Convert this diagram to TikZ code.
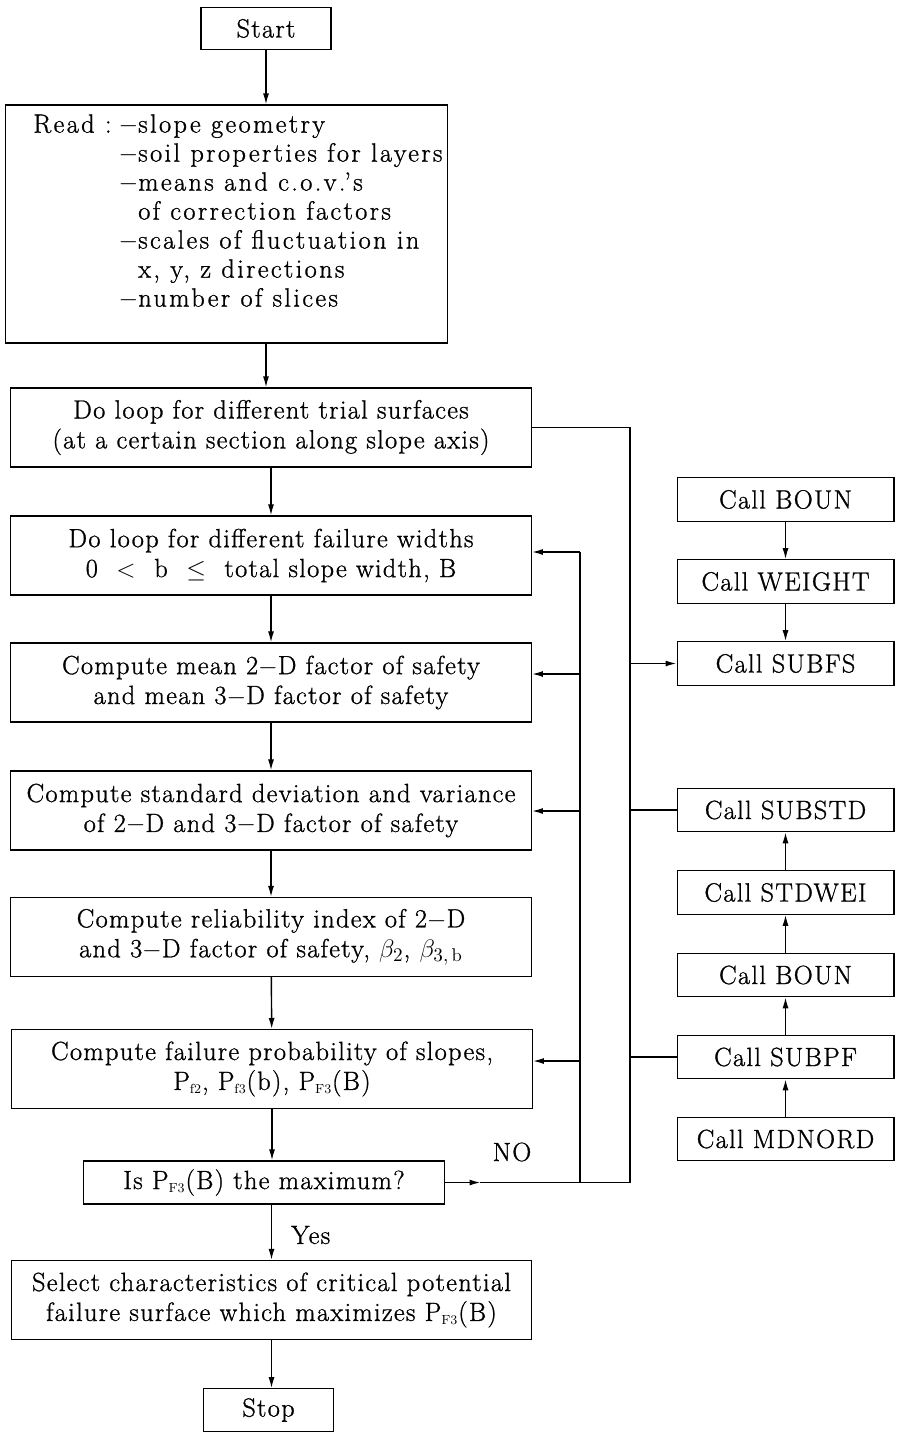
\documentclass[tikz,border=0pt]{standalone}
\usepackage{amsmath, amssymb}
\usepackage{fontspec}
\newfontfamily\boxfont{Latin Modern Roman}[LetterSpace=5, FakeBold=1]
\newfontfamily\readfont{Latin Modern Roman}[LetterSpace=9, FakeBold=1]
\usepackage{tikz}
\usetikzlibrary{arrows.meta, positioning, calc}

\begin{document}
\begin{tikzpicture}[
  x=0.02cm, y=-0.02cm,
  box/.style={draw, line width=0.6pt, align=center, inner sep=0pt,
    font=\boxfont\fontsize{15}{17}\selectfont},
  mainbox/.style={box, minimum width=10.42cm, minimum height=1.58cm},
  callbox/.style={box, minimum width=4.34cm, minimum height=0.87cm},
  termbox/.style={box, minimum width=2.6cm, minimum height=0.85cm},
  arr/.style={line width=0.8pt, -{Latex[length=2.2mm,width=1.2mm]}},
  lin/.style={line width=0.8pt},
  lbl/.style={font=\boxfont\fontsize{15}{17}\selectfont}
]
  \useasboundingbox (0,0) rectangle (896,1432);

  \node[termbox] (start) at (266,28.5) {Start};
  \node[box, minimum width=8.86cm, minimum height=4.76cm] (read) at (226.5,224) {};
  \node[anchor=north west, inner sep=0pt, align=left] (readtxt) at (33,112) {%
    \readfont\fontsize{15}{16.5}\selectfont
    \begin{tabular}{@{}l@{\hspace{4pt}}l@{}}
      Read : & $-$slope geometry\\
             & $-$soil properties for layers\\
             & $-$means and c.o.v.’s\\
             & \phantom{$-$}of correction factors\\
             & $-$scales of fluctuation in\\
             & \phantom{$-$}x, y, z directions\\
             & $-$number of slices
    \end{tabular}};

  \node[mainbox] (trial) at (271,427.5) {Do loop for different trial surfaces\\(at a certain section along slope axis)};
  \node[mainbox] (widths) at (271,555.5) {Do loop for different failure widths\\0 \ $<$ \ b \ $\leq$ \ total slope width, B};
  \node[mainbox] (mean) at (271,682.5) {Compute mean 2$-$D factor of safety\\and mean 3$-$D factor of safety};
  \node[mainbox] (std) at (271,810.5) {Compute standard deviation and variance\\of 2$-$D and 3$-$D factor of safety};
  \node[mainbox] (rel) at (271,937) {Compute reliability index of 2$-$D\\and 3$-$D factor of safety, $\beta_2$, $\beta_{3,\,\mathrm{b}}$};
  \node[mainbox] (prob) at (272,1069) {Compute failure probability of slopes,\\P$_{\scriptscriptstyle\mathrm{f2}}$, P$_{\scriptscriptstyle\mathrm{f3}}$(b), P$_{\scriptscriptstyle\mathrm{F3}}$(B)};
  \node[box, minimum width=7.24cm, minimum height=0.86cm] (is) at (264,1182.5) {Is P$_{\scriptscriptstyle\mathrm{F3}}$(B) the maximum?};
  \node[mainbox] (select) at (271.5,1300) {Select characteristics of critical potential\\failure surface which maximizes P$_{\scriptscriptstyle\mathrm{F3}}$(B)};
  \node[termbox] (stop) at (268.5,1410) {Stop};

  \foreach \nm/\yy/\txt in {bounA/499.5/BOUN, weight/581.5/WEIGHT, subfs/663.5/SUBFS,
      substd/810/SUBSTD, stdwei/892.5/STDWEI, bounB/975/BOUN, subpf/1057/SUBPF, mdnord/1139/MDNORD}
    \node[callbox] (\nm) at (785.5,\yy) {Call \txt};

  \draw[arr] (start) -- (start |- read.north);
  \draw[arr] (start |- read.south) -- (start |- trial.north);
  \foreach \a/\b in {trial/widths, widths/mean, mean/std, std/rel, rel/prob}
    \draw[arr] (\a) -- (\b);
  \draw[arr] (prob) -- (prob |- is.north);
  \draw[arr] (select |- is.south) -- (select);
  \draw[arr] (select) -- (select |- stop.north);

  \node[lbl, anchor=west] (yes) at (285,1235) {Yes};
  \node[lbl] (no) at (512,1152) {NO};

  \coordinate (rtop) at (630,427.5);
  \coordinate (rbot) at (rtop |- is.east);
  \coordinate (ltop) at (580,552);
  \coordinate (lbot) at (ltop |- is.east);

  \draw[arr] (is.east) -- ++(35,0) coordinate (noarr);
  \draw[lin] (noarr) -- (rbot);
  \draw[lin] (trial.east) -- (rtop) -- (rbot);
  \draw[lin] (ltop) -- (lbot);
  \draw[arr] (ltop) -- (ltop -| widths.east);
  \foreach \bx/\yy in {mean/674, std/811, prob/1061}
    \draw[arr] (580,\yy) coordinate (lhit) -- (lhit -| \bx.east);

  \draw[arr] (rtop |- subfs.west) -- (subfs.west);
  \foreach \bx in {substd, subpf}
    \draw[lin] (rtop |- \bx.west) -- (\bx.west);

  \foreach \a/\b in {bounA/weight, weight/subfs, mdnord/subpf, subpf/bounB, bounB/stdwei, stdwei/substd}
    \draw[arr] (\a) -- (\b);
\end{tikzpicture}
\end{document}
